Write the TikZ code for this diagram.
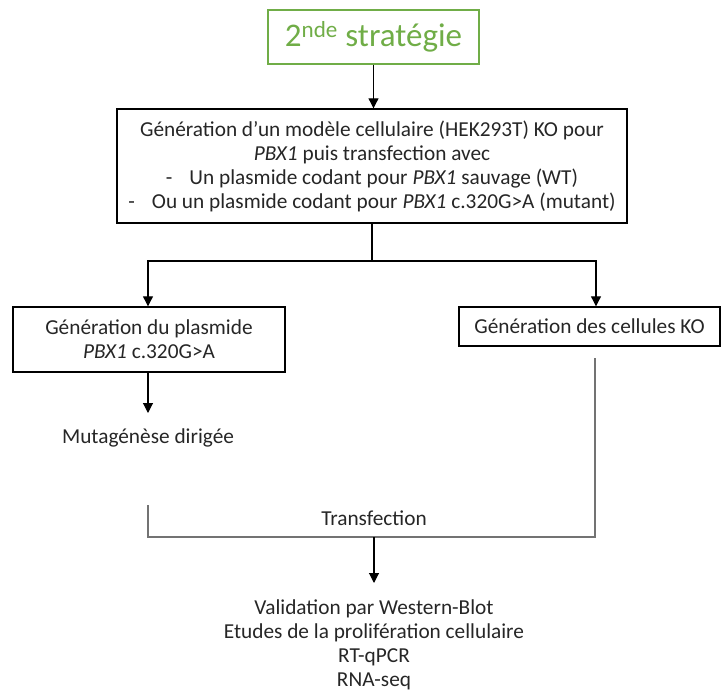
\documentclass[tikz,border=0pt]{standalone}
\usepackage{fontspec}
\setmainfont{Carlito}
\usetikzlibrary{arrows.meta}
\definecolor{vert}{HTML}{70AD47}

\begin{document}
\begin{tikzpicture}[x=1pt,y=-1pt,
        every node/.style={font=\fontsize{21.3}{24}\selectfont, text=black!85},
        box/.style={draw, line width=1.4pt, inner sep=0pt, align=center},
        arr/.style={line width=1.1pt, -{Triangle[length=10pt,width=10pt]}},
        link/.style={line width=1.1pt, draw=black!55}]

        \useasboundingbox (0,0) rectangle (721,693);

        \node[box, draw=vert, text=vert, minimum width=211, minimum height=54,
            font=\fontsize{33}{38}\selectfont] (titre) at (373.5,37) {2\textsuperscript{nde} stratégie};
        \node[box, minimum width=510, minimum height=114] (modele) at (372,166)
            {Génération d’un modèle cellulaire (HEK293T) KO pour\\
             \textit{PBX1} puis transfection avec\\
             -\hspace{17pt}Un plasmide codant pour \textit{PBX1} sauvage (WT)\\
             -\hspace{17pt}Ou un plasmide codant pour \textit{PBX1} c.320G>A (mutant)};
        \coordinate (split) at (372,261);
        \node[box, minimum width=272, minimum height=65] (plasmide) at (149,339.5)
            {Génération du plasmide\\ \textit{PBX1} c.320G>A};
        \node[box, minimum width=261, minimum height=39] (cellules) at (589.5,326.5)
            {Génération des cellules KO};
        \node[anchor=north, inner ysep=16pt] (muta) at (148,413) {Mutagénèse dirigée};

        \coordinate (joinL) at (148,505);
        \coordinate (joinR) at (595,358);
        \coordinate (join) at (374,537);
        \node (transf) at (374,518) {Transfection};
        \node[anchor=north, align=center, inner ysep=17pt] (analyses) at (374,583)
            {Validation par Western-Blot\\ Etudes de la prolifération cellulaire\\ RT-qPCR\\ RNA-seq};

        \draw[arr] (titre.south) -- (titre.south |- modele.north);
        \draw[line width=1.1pt] (modele) -- (split);
        \draw[arr] (split) -| (plasmide.north -| joinL);
        \draw[arr] (split) -| (cellules.north -| 596,0);
        \draw[arr] (plasmide.south -| joinL) -- (muta);
        \draw[link] (joinL) |- (join) -| (joinR);
        \draw[arr] (join) -- (analyses);

\end{tikzpicture}
\end{document}
